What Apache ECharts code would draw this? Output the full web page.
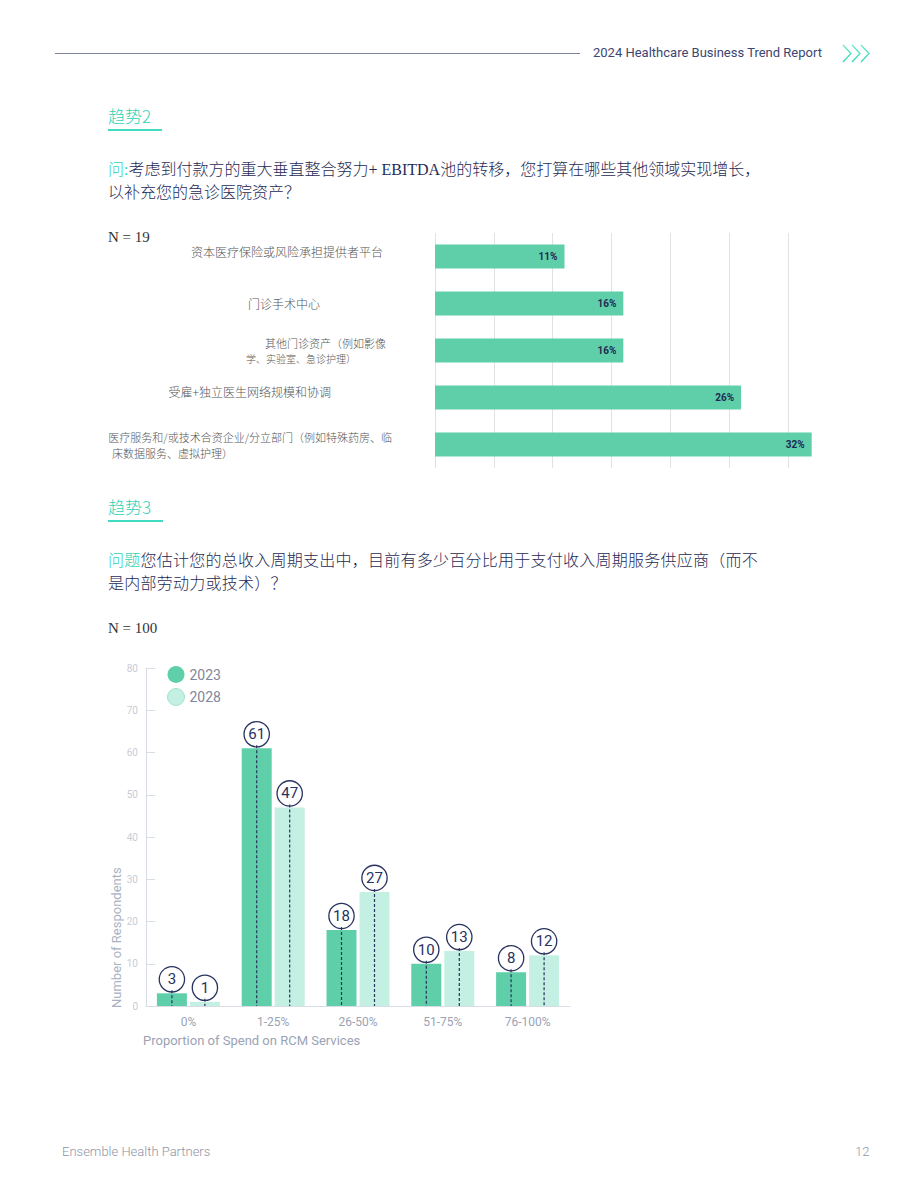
<!DOCTYPE html>
<html>
<head>
<meta charset="utf-8">
<script src="https://cdn.jsdelivr.net/npm/echarts@6/dist/echarts.min.js"></script>
<style>
  body { margin: 0; background: #fff; }
  #page { position: relative; width: 920px; height: 1191px; overflow: hidden; }
  #main { position: absolute; left: 0; top: 0; width: 920px; height: 1191px; }
  .t { position: absolute; white-space: nowrap; }
  .hline { position: absolute; height: 1px; background: #7b849c; }
  .head { font-family: Roboto, "Noto Sans", sans-serif; font-size: 13px; color: #3c4673; }
  .trend { font-family: "Noto Sans CJK SC", sans-serif; font-weight: 300; font-size: 17px; color: #2fd3b5; line-height: 20px; }
  .uline { position: absolute; height: 2px; background: #3fdcc0; }
  .q { font-family: "Liberation Serif", "Noto Sans CJK SC", serif; font-weight: 300; font-size: 16px; color: #1f2b55; line-height: 23px; }
  .q b { font-weight: 300; color: #2fd3b5; }
  .n { font-family: "Liberation Serif", serif; font-size: 15px; color: #333; }
  .foot { font-family: Roboto, sans-serif; font-weight: 300; font-size: 13px; color: #8d95a6; }
</style>
</head>
<body>
<div id="page">
  <div id="main"></div>

  <div class="hline" style="left:55px; top:53px; width:525px;"></div>
  <div class="t head" style="left:593px; top:45px;">2024 Healthcare Business Trend Report</div>
  <svg class="t" style="left:840px; top:43px;" width="34" height="22">
    <defs>
      <linearGradient id="cg" x1="0" y1="0" x2="0" y2="1">
        <stop offset="0" stop-color="#6fe6c9"/>
        <stop offset="1" stop-color="#2ed8b8"/>
      </linearGradient>
    </defs>
    <polyline points="3,2 11,10.5 3,19" fill="none" stroke="url(#cg)" stroke-width="1.3"/>
    <polyline points="12,2 20,10.5 12,19" fill="none" stroke="url(#cg)" stroke-width="1.3"/>
    <polyline points="21,2 29,10.5 21,19" fill="none" stroke="url(#cg)" stroke-width="1.3"/>
  </svg>

  <div class="t trend" style="left:108px; top:106px;">趋势2</div>
  <div class="uline" style="left:108px; top:129px; width:54px;"></div>
  <div class="t q" style="left:108px; top:158px;"><b>问:</b>考虑到付款方的重大垂直整合努力+ EBITDA池的转移，您打算在哪些其他领域实现增长，<br>以补充您的急诊医院资产？</div>
  <div class="t n" style="left:108px; top:229px;">N = 19</div>

  <div class="t trend" style="left:108px; top:497px;">趋势3</div>
  <div class="uline" style="left:108px; top:520px; width:55px;"></div>
  <div class="t q" style="left:108px; top:549px; letter-spacing:0.25px;"><b>问题</b>您估计您的总收入周期支出中，目前有多少百分比用于支付收入周期服务供应商（而不<br>是内部劳动力或技术）？</div>
  <div class="t n" style="left:108px; top:620px;">N = 100</div>

  <div class="t foot" style="left:62px; top:1144px;">Ensemble Health Partners</div>
  <div class="t foot" style="left:855px; top:1144px;">12</div>
</div>

<script>
// chart 1: growth areas (percent of respondents)
var areaNames = [
  '资本医疗保险或风险承担提供者平台',
  '门诊手术中心',
  '其他门诊资产（例如影像\n学、实验室、急诊护理）',
  '受雇+独立医生网络规模和协调',
  '医疗服务和/或技术合资企业/分立部门（例如特殊药房、临\n床数据服务、虚拟护理）'
];
var areaPct = [11, 16, 16, 26, 32];

// chart 2: RCM spend share
var spendBuckets = ['0%', '1-25%', '26-50%', '51-75%', '76-100%'];
var years = ['2023', '2028'];
var resp2023 = [3, 61, 18, 10, 8];
var resp2028 = [1, 47, 27, 13, 12];

var navy = '#27325e';
var green = '#5fcfa9';
var mint = '#c4f0e4';

// per-label nudges so the category labels sit like the original layout
var labelRich = {
  a0: { fontSize: 12, padding: [0, 9, 10, 0] },
  a1: { fontSize: 12, padding: [0, 72, 0, 0] },
  a2: { fontSize: 11, padding: [0, 6, 0, 0] },
  b2: { fontSize: 10, padding: [0, 36, 0, 0] },
  a3: { fontSize: 12, padding: [0, 61, 12, 0] },
  a4: { fontSize: 11, padding: [0, 0, 0, 0] },
  b4: { fontSize: 11, padding: [0, 159, 0, 0] }
};

function dashLine(offset) {
  return function (params, api) {
    var top = api.coord([api.value(0), api.value(1)]);
    var bottom = api.coord([api.value(0), 0]);
    return {
      type: 'line',
      shape: { x1: top[0] + offset, y1: top[1] - 3, x2: bottom[0] + offset, y2: bottom[1] },
      style: { stroke: navy, lineWidth: 1.2, lineDash: [3, 2] }
    };
  };
}

function pairs(vals) {
  var out = [];
  for (var i = 0; i < vals.length; i++) out.push([i, vals[i]]);
  return out;
}

var circleLabel = {
  show: true,
  position: 'top',
  distance: 2,
  formatter: '{c}',
  color: navy,
  fontFamily: 'Roboto',
  fontSize: 15,
  backgroundColor: '#fff',
  borderColor: navy,
  borderWidth: 1.3,
  borderRadius: 12.5,
  width: 24,
  height: 24,
  lineHeight: 24,
  align: 'center'
};

var myChart = echarts.init(document.getElementById('main'), null, { renderer: 'svg' });

var option = {
  animation: false,
  grid: [
    { left: 435, top: 233, width: 412, height: 235 },
    { left: 146, top: 668, width: 424, height: 338 }
  ],
  xAxis: [
    {
      gridIndex: 0, type: 'value', min: 0, max: 35, interval: 5,
      axisLabel: { show: false }, axisLine: { show: false }, axisTick: { show: false },
      splitLine: { show: true, showMaxLine: false, lineStyle: { color: '#e2e2e2', width: 1 } }
    },
    {
      gridIndex: 1, type: 'category', data: spendBuckets,
      axisLine: { lineStyle: { color: '#d8dce4' } },
      axisTick: { inside: true, length: 7, lineStyle: { color: '#d8dce4' } },
      axisLabel: { color: '#9aa3b5', fontSize: 12, fontFamily: 'Roboto', margin: 10 }
    }
  ],
  yAxis: [
    {
      gridIndex: 0, type: 'category', data: areaNames, inverse: true,
      axisLine: { show: false }, axisTick: { show: false },
      axisLabel: {
        margin: 43, align: 'right', color: '#555', lineHeight: 16,
        fontFamily: 'Noto Sans CJK SC', fontWeight: 300,
        formatter: function (value, idx) {
          var lines = value.split('\n');
          return lines.map(function (l, k) {
            return '{' + (k === 0 ? 'a' : 'b') + idx + '|' + l + '}';
          }).join('\n');
        },
        rich: labelRich
      }
    },
    {
      gridIndex: 1, type: 'value', min: 0, max: 80, interval: 10,
      axisLine: { show: true, lineStyle: { color: '#d8dce4' } },
      axisTick: { show: true, inside: true, length: 9, lineStyle: { color: '#d8dce4' } },
      axisLabel: { color: '#c7ccd6', fontSize: 10, fontFamily: 'Roboto', margin: 8 },
      splitLine: { show: false }
    }
  ],
  legend: {
    data: [
      { name: '2023' },
      { name: '2028', itemStyle: { borderColor: '#a5e3d0', borderWidth: 1 } }
    ],
    orient: 'vertical', left: 167, top: 666, padding: 0,
    icon: 'circle', itemWidth: 17, itemHeight: 17, itemGap: 5,
    textStyle: { color: '#7f889b', fontSize: 14, fontFamily: 'Roboto' }
  },
  graphic: [
    {
      type: 'text', x: 116, y: 1008, rotation: Math.PI / 2,
      style: { text: 'Number of Respondents', fill: '#aab2c2', fontSize: 13, fontFamily: 'Roboto', align: 'left', verticalAlign: 'middle' }
    },
    {
      type: 'text', x: 143, y: 1040,
      style: { text: 'Proportion of Spend on RCM Services', fill: '#9aa3b5', fontSize: 13, fontFamily: 'Roboto', align: 'left', verticalAlign: 'middle' }
    }
  ],
  series: [
    {
      type: 'bar', xAxisIndex: 0, yAxisIndex: 0, data: areaPct, barWidth: 24,
      itemStyle: { color: green },
      label: {
        show: true, position: 'insideRight', distance: 7, formatter: '{c}%',
        color: '#1e2a55', fontSize: 10, fontWeight: 'bold', fontFamily: 'Roboto'
      }
    },
    {
      name: years[0], type: 'bar', xAxisIndex: 1, yAxisIndex: 1, data: resp2023,
      barWidth: 30, barGap: '10%', itemStyle: { color: green }, label: circleLabel
    },
    {
      name: years[1], type: 'bar', xAxisIndex: 1, yAxisIndex: 1, data: resp2028,
      barWidth: 30, barGap: '10%', itemStyle: { color: mint }, label: circleLabel
    },
    {
      name: 'line2023', type: 'custom', xAxisIndex: 1, yAxisIndex: 1, z: 3,
      data: pairs(resp2023), renderItem: dashLine(-16.5)
    },
    {
      name: 'line2028', type: 'custom', xAxisIndex: 1, yAxisIndex: 1, z: 3,
      data: pairs(resp2028), renderItem: dashLine(16.5)
    }
  ]
};

myChart.setOption(option);
</script>
</body>
</html>
